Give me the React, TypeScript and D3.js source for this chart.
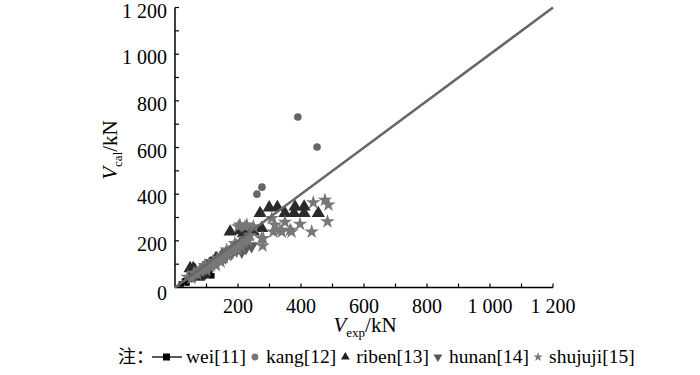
import React, { useEffect, useRef } from "react";
import * as d3 from "d3";

const xTicks = [200, 400, 600, 800, 1000, 1200];
const yTicks = [0, 200, 400, 600, 800, 1000, 1200];
const tickLabel = (v: number) => (v >= 1000 ? `${Math.floor(v / 1000)} ${String(v % 1000).padStart(3, "0")}` : `${v}`);

const weiData: [number, number][] = [
  [20, 15], [30, 28], [38, 19], [45, 40], [55, 35], [60, 55], [70, 50], [80, 65], [90, 46], [100, 60],
  [110, 65], [117, 50], [85, 85], [95, 100], [105, 110], [120, 120], [75, 75], [65, 70], [50, 55], [35, 30],
];
const kangData: [number, number][] = [[390, 731], [451, 602], [276, 430], [260, 400]];
const ribenData: [number, number][] = [
  [270, 318], [299, 342], [325, 344], [349, 318], [378, 318], [381, 346], [410, 346], [410, 318], [455, 318],
  [175, 239], [217, 232], [249, 239], [275, 254], [238, 246], [206, 244], [48, 82], [63, 75], [79, 61],
  [90, 68], [58, 82], [110, 100], [130, 125], [150, 140], [95, 55], [75, 45],
];
const hunanData: [number, number][] = [
  [243, 178], [212, 155], [195, 160], [180, 148], [160, 130], [140, 120], [125, 105], [110, 95], [95, 80],
  [80, 70], [65, 55], [150, 125], [225, 170],
];
const shujujiData: [number, number][] = [
  [40, 45], [52, 40], [60, 62], [70, 58], [78, 72], [88, 80], [95, 95], [100, 88], [108, 100], [115, 95],
  [120, 112], [128, 105], [135, 125], [140, 118], [148, 132], [155, 128], [160, 145], [165, 138], [172, 150],
  [178, 160], [185, 155], [190, 170], [195, 180], [200, 165], [205, 190], [210, 175], [218, 195], [225, 210],
  [232, 200], [238, 222], [164, 161], [190, 189], [206, 268], [228, 268], [249, 261], [275, 211], [278, 178],
  [280, 211], [317, 268], [312, 239], [339, 239], [365, 246], [370, 239], [397, 272], [434, 239], [439, 364],
  [476, 375], [487, 354], [484, 282], [349, 280], [307, 296], [333, 246], [222, 261], [201, 261], [130, 95],
  [145, 110], [100, 75], [110, 90],
];
const legendNames = ["wei[11]", "kang[12]", "riben[13]", "hunan[14]", "shujuji[15]"];

const SERIF = "Liberation Serif, Times New Roman, serif";

export default function App() {
  const ref = useRef<SVGSVGElement>(null);
  useEffect(() => {
    const svg = d3.select(ref.current);
    svg.selectAll("*").remove();
    const x = d3.scaleLinear().domain([0, 1200]).range([175, 553]);
    const y = d3.scaleLinear().domain([0, 1200]).range([287.5, 7.5]);
    const g = svg.append("g");

    // axes
    g.append("line").attr("x1", x(0)).attr("x2", x(1200)).attr("y1", y(0)).attr("y2", y(0)).attr("stroke", "#000").attr("stroke-width", 1.5);
    g.append("line").attr("x1", x(0)).attr("x2", x(0)).attr("y1", y(0)).attr("y2", y(1200)).attr("stroke", "#000").attr("stroke-width", 1.5);
    const minor = d3.range(100, 1201, 100);
    g.selectAll(".xt").data(minor).enter().append("line")
      .attr("x1", (d) => x(d)).attr("x2", (d) => x(d)).attr("y1", y(0)).attr("y2", y(0) - 4)
      .attr("stroke", "#000").attr("stroke-width", 1.2);
    g.selectAll(".yt").data(minor).enter().append("line")
      .attr("y1", (d) => y(d)).attr("y2", (d) => y(d)).attr("x1", x(0)).attr("x2", x(0) + 4)
      .attr("stroke", "#000").attr("stroke-width", 1.2);

    g.selectAll(".xl").data(xTicks).enter().append("text")
      .attr("x", (d) => x(d)).attr("y", y(0) + 25).attr("text-anchor", "middle")
      .attr("font-family", SERIF).attr("font-size", 20).text((d) => tickLabel(d));
    g.selectAll(".yl").data(yTicks).enter().append("text")
      .attr("x", x(0) - 8).attr("y", (d) => y(d) + (d === 0 ? 12 : 10)).attr("text-anchor", "end")
      .attr("font-family", SERIF).attr("font-size", 20).text((d) => tickLabel(d));

    // axis titles
    const xt = g.append("text").attr("x", 365).attr("y", 332).attr("text-anchor", "middle").attr("font-family", SERIF).attr("font-size", 21);
    xt.append("tspan").attr("font-style", "italic").text("V");
    xt.append("tspan").attr("font-size", 13).attr("dy", 5).text("exp");
    xt.append("tspan").attr("dy", -5).text("/kN");
    const yt = g.append("text").attr("transform", "translate(117,150) rotate(-90)").attr("text-anchor", "middle").attr("font-family", SERIF).attr("font-size", 21);
    yt.append("tspan").attr("font-style", "italic").text("V");
    yt.append("tspan").attr("font-size", 13).attr("dy", 5).text("cal");
    yt.append("tspan").attr("dy", -5).text("/kN");

    const sq = d3.symbol().type(d3.symbolSquare).size(30);
    const tri = d3.symbol().type(d3.symbolTriangle).size(75);
    const star = d3.symbol().type(d3.symbolStar).size(65);

    g.selectAll(".wei").data(weiData).enter().append("path").attr("d", sq)
      .attr("transform", (d) => `translate(${x(d[0])},${y(d[1])})`).attr("fill", "#000");
    g.selectAll(".kang").data(kangData).enter().append("circle")
      .attr("cx", (d) => x(d[0])).attr("cy", (d) => y(d[1])).attr("r", 3.8).attr("fill", "#666");
    g.selectAll(".riben").data(ribenData).enter().append("path").attr("d", tri)
      .attr("transform", (d) => `translate(${x(d[0])},${y(d[1])})`).attr("fill", "#2a2a2a");
    g.selectAll(".hunan").data(hunanData).enter().append("path").attr("d", tri)
      .attr("transform", (d) => `translate(${x(d[0])},${y(d[1])}) rotate(180)`).attr("fill", "#5a5a5a");
    g.selectAll(".shu").data(shujujiData).enter().append("path").attr("d", star)
      .attr("transform", (d) => `translate(${x(d[0])},${y(d[1])})`).attr("fill", "#777");

    // 1:1 line
    g.append("line").attr("x1", x(0)).attr("y1", y(0)).attr("x2", x(1200)).attr("y2", y(1200))
      .attr("stroke", "#666").attr("stroke-width", 2.5);

    // legend
    const ly = 363;
    let cx = 118;
    const note = g.append("text").attr("x", cx).attr("y", ly).attr("font-family", "Noto Sans CJK SC, sans-serif").attr("font-size", 18).text("注：");
    cx += (note.node() as SVGTextElement).getComputedTextLength() - 2;
    const mid = ly - 6;
    legendNames.forEach((name, i) => {
      if (i === 0) {
        g.append("line").attr("x1", cx).attr("x2", cx + 30).attr("y1", mid).attr("y2", mid).attr("stroke", "#000").attr("stroke-width", 1.3);
        g.append("rect").attr("x", cx + 11).attr("y", mid - 3.5).attr("width", 7).attr("height", 7).attr("fill", "#000");
        cx += 34;
      } else {
        const s = d3.symbol().size(34);
        if (i === 1) g.append("circle").attr("cx", cx).attr("cy", mid).attr("r", 3.4).attr("fill", "#777");
        if (i === 2) g.append("path").attr("d", s.type(d3.symbolTriangle)()).attr("transform", `translate(${cx},${mid})`).attr("fill", "#222");
        if (i === 3) g.append("path").attr("d", s.type(d3.symbolTriangle)()).attr("transform", `translate(${cx},${mid}) rotate(180)`).attr("fill", "#555");
        if (i === 4) g.append("path").attr("d", d3.symbol().type(d3.symbolStar).size(28)()).attr("transform", `translate(${cx},${mid})`).attr("fill", "#777");
        cx += 11;
      }
      const t = g.append("text").attr("x", cx).attr("y", ly).attr("font-family", SERIF).attr("font-size", 19.5).text(name);
      cx += (t.node() as SVGTextElement).getComputedTextLength() + 9;
    });
  }, []);
  return (
    <svg ref={ref} width={700} height={375} style={{ position: "absolute", left: 0, top: 0, background: "#fff" }} />
  );
}
